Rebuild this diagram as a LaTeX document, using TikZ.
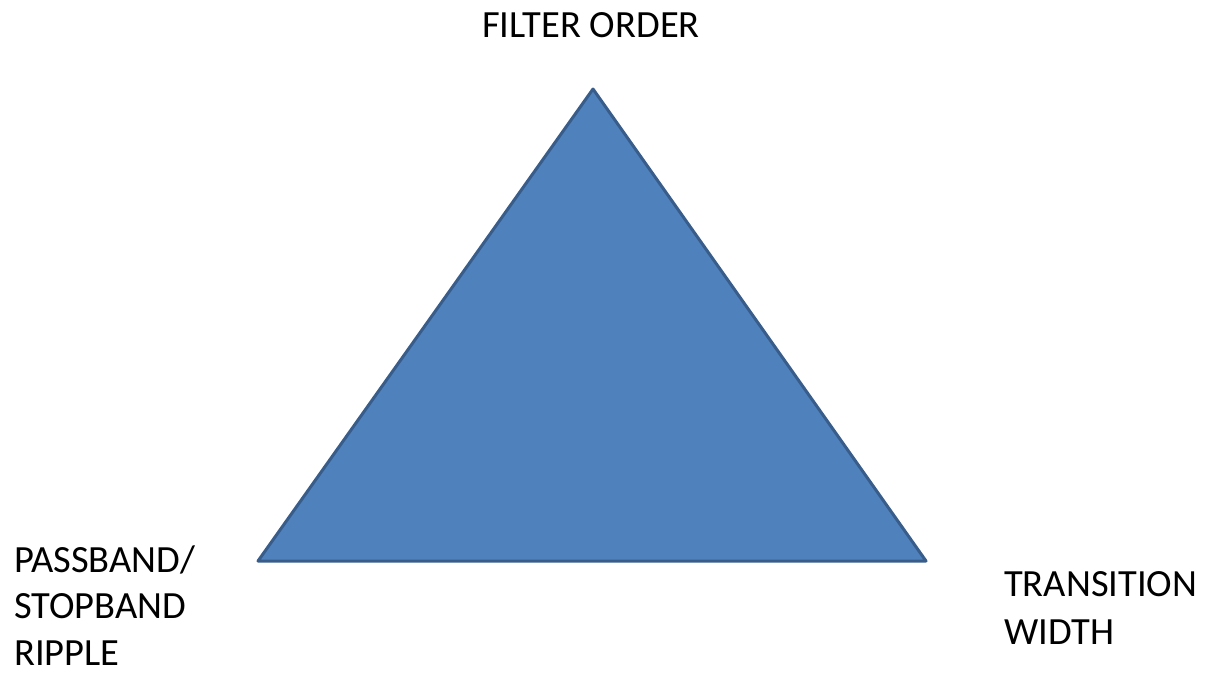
\documentclass[tikz,border=0pt]{standalone}
\usepackage{fontspec}
\setmainfont{Carlito}
\definecolor{trifill}{HTML}{4F81BD}
\definecolor{triedge}{HTML}{385D8A}
\begin{document}
\begin{tikzpicture}[x=1pt,y=-1pt,
  lbl/.style={inner sep=0pt, text=black},
  tri/.style={fill=trifill, draw=triedge, line width=3pt, line join=round}]
\useasboundingbox (0,0) rectangle (1209,673);
\coordinate (apex) at (593,89);
\coordinate (bl) at (258,561);
\coordinate (br) at (926,561);
\draw[tri] (apex) -- (bl) -- (br) -- cycle;
\node[lbl, anchor=base, font=\fontsize{38.5}{47}\selectfont] (top) at (591,37) {FILTER ORDER};
\node[lbl, anchor=base west, font=\fontsize{38.5}{46.5}\selectfont] (left) at (14,572)
  {\vtop{\hbox{PASSBAND/}\hbox{STOPBAND}\hbox{RIPPLE}}};
\node[lbl, anchor=base west, font=\fontsize{38.5}{48}\selectfont] (right) at (1004,596)
  {\vtop{\hbox{TRANSITION}\hbox{WIDTH}}};
\end{tikzpicture}
\end{document}
